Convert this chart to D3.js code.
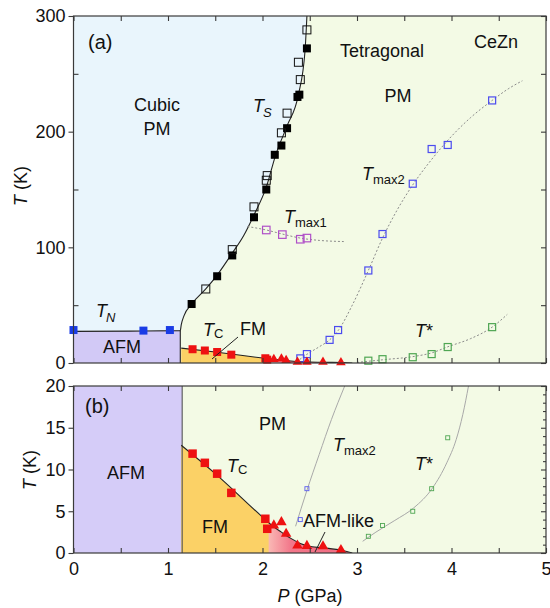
<!DOCTYPE html>
<html>
<head>
<meta charset="utf-8">
<script src="https://cdn.jsdelivr.net/npm/d3@7"></script>
<style>
  body { margin: 0; background: #fff; }
  svg { display: block; font-family: "Liberation Sans", Arial, sans-serif; }
</style>
</head>
<body>
<script>
// ---- data (P in GPa, T in K) ----
const tnP = [0, 0.74, 1.02];
const tnT = [28.5, 28, 28.5];
const tnLineP = [0, 0.6, 1.13];
const tnLineT = [27.3, 27.6, 28];

const tsFilledP = [1.25, 1.52, 1.68, 1.91, 2.04, 2.13, 2.20, 2.26, 2.37, 2.39, 2.47];
const tsFilledT = [51, 75, 93, 126, 150, 180, 188, 203, 230, 232, 272];
const tsOpenP = [1.40, 1.68, 1.91, 2.04, 2.05, 2.20, 2.26, 2.40, 2.38, 2.47];
const tsOpenT = [64, 98, 135, 158, 162, 199, 216, 245, 260, 288];
const tsLineP = [1.13, 1.14, 1.17, 1.25, 1.40, 1.52, 1.68, 1.80, 1.91, 2.04, 2.14, 2.26, 2.38, 2.45, 2.47];
const tsLineT = [28, 33, 41, 51, 64, 76, 95, 110, 128, 152, 180, 205, 232, 270, 300];

const tmax1P = [2.04, 2.21, 2.40, 2.47];
const tmax1T = [115, 111, 107, 108];
const tmax1FitP = [1.84, 2.04, 2.21, 2.40, 2.60, 2.86];
const tmax1FitT = [118, 115, 111.5, 108, 106, 105];

const tmax2P = [2.40, 2.47, 2.71, 2.80, 3.12, 3.27, 3.59, 3.79, 3.96, 4.43];
const tmax2T = [4, 7.7, 20, 28.5, 80, 111.5, 155, 185, 188.5, 227];
const tmax2FitP = [2.36, 2.47, 2.60, 2.71, 2.80, 2.95, 3.12, 3.27, 3.43, 3.59, 3.79, 4.00, 4.20, 4.43, 4.60, 4.75];
const tmax2FitT = [1, 7.5, 14, 20, 28, 50, 80, 108, 133, 154, 176, 196, 212, 227, 237, 244];
const tmax2FitBP = [2.35, 2.47, 2.60, 2.73, 2.87];
const tmax2FitBT = [3.2, 7.5, 11.8, 16, 20];

const tStarP = [3.12, 3.27, 3.59, 3.79, 3.96, 4.43];
const tStarT = [2.0, 3.3, 5.0, 7.7, 13.8, 31];
const tStarFitP = [3.00, 3.12, 3.30, 3.59, 3.80, 3.96, 4.20, 4.43, 4.59];
const tStarFitT = [0.5, 1.5, 3, 5.5, 9, 14, 21, 31, 42];
const tStarFitBP = [3.06, 3.20, 3.40, 3.60, 3.80, 3.95, 4.05, 4.12, 4.18];
const tStarFitBT = [1.4, 2.5, 3.9, 5.4, 7.8, 10.8, 13.6, 16.6, 20];

const tcSqP = [1.26, 1.39, 1.52, 1.67, 2.03, 2.05];
const tcSqT = [11.9, 10.8, 9.5, 7.2, 4.1, 2.9];
const triP = [2.12, 2.20, 2.25, 2.37, 2.47, 2.64, 2.83];
const triT = [3.3, 3.7, 2.3, 0.9, 0.85, 0.8, 0.35];
const tcLineP = [1.14, 1.5, 2.0, 2.1, 2.2, 2.3, 2.4, 2.5, 2.7, 2.85, 2.95];
const tcLineT = [12.9, 9.5, 4.3, 3.3, 2.5, 1.75, 1.15, 0.8, 0.55, 0.3, 0];

const xTicks = d3.range(0, 5.01, 0.5);
const xLabels = [0, 1, 2, 3, 4, 5];
const yaMajor = [0, 100, 200, 300];
const yaMinor = [50, 150, 250];
const ybMajor = [0, 5, 10, 15, 20];

const zip = (a, b) => a.map((v, i) => [v, b[i]]);

// ---- layout ----
const W = 550, H = 608;
const x = d3.scaleLinear().domain([0, 5]).range([73.5, 546]);
const ya = d3.scaleLinear().domain([0, 300]).range([363, 16]);
const yb = d3.scaleLinear().domain([0, 20]).range([553, 386]);

const C = {
  cubic: "#e9f5fc", tetra: "#f3fae5", afmA: "#d2c9f6", afmB: "#d5ccf8",
  fm: "#fbd166", frame: "#3a3a3a"
};

const svg = d3.select("body").append("svg").attr("width", W).attr("height", H);
const defs = svg.append("defs");

// gradient for FM -> AFM-like
const grad = defs.append("linearGradient").attr("id", "fmgrad")
  .attr("gradientUnits", "userSpaceOnUse")
  .attr("x1", x(0)).attr("x2", x(5)).attr("y1", 0).attr("y2", 0);
const off = p => (p / 5 * 100) + "%";
grad.append("stop").attr("offset", off(2.06)).attr("stop-color", C.fm);
grad.append("stop").attr("offset", off(2.07)).attr("stop-color", "#f9b7b4");
grad.append("stop").attr("offset", off(2.3)).attr("stop-color", "#f2778a");
grad.append("stop").attr("offset", off(3.0)).attr("stop-color", "#f06a80");

function clip(id, y) {
  defs.append("clipPath").attr("id", id).append("rect")
    .attr("x", x(0)).attr("y", y.range()[1])
    .attr("width", x(5) - x(0)).attr("height", y.range()[0] - y.range()[1]);
}
clip("clipA", ya);
clip("clipB", yb);

function lineGen(y, curve) {
  return d3.line().x(d => x(d[0])).y(d => y(d[1])).curve(curve || d3.curveMonotoneX);
}

function squares(g, y, P, T, size, stroke, fill, sw) {
  g.selectAll(null).data(zip(P, T)).enter().append("rect")
    .attr("x", d => x(d[0]) - size / 2).attr("y", d => y(d[1]) - size / 2)
    .attr("width", size).attr("height", size)
    .attr("fill", fill).attr("stroke", stroke).attr("stroke-width", sw || 0);
}
function triangles(g, y, P, T, size) {
  g.selectAll(null).data(zip(P, T)).enter().append("path")
    .attr("d", d3.symbol(d3.symbolTriangle, size))
    .attr("transform", d => `translate(${x(d[0])},${y(d[1])})`)
    .attr("fill", "#ee1111");
}

function text(g, px, py, parts, anchor) {
  const t = g.append("text").attr("x", px).attr("y", py)
    .attr("text-anchor", anchor || "start").attr("fill", "#111");
  parts.forEach(p => {
    const s = t.append("tspan").text(p.t)
      .attr("font-size", p.size || 18)
      .attr("font-style", p.it ? "italic" : "normal");
    if (p.dy) s.attr("dy", p.dy);
    if (p.dx) s.attr("dx", p.dx);
  });
  return t;
}

function axes(g, y, major, minor, rightTicks, rightMinor, showX) {
  const top = y.range()[1], bot = y.range()[0];
  const fix = a => { a.select(".domain").remove(); a.selectAll("line").attr("stroke", C.frame).attr("stroke-width", 1.1); };
  g.append("g").attr("transform", `translate(0,${top})`)
    .call(d3.axisTop(x).tickValues(xTicks).tickSize(-5).tickFormat("")).call(fix);
  const bx = g.append("g").attr("transform", `translate(0,${bot})`)
    .call(d3.axisBottom(x).tickValues(xTicks).tickSize(-5).tickPadding(9)
      .tickFormat(d => (showX && xLabels.includes(d)) ? d3.format("d")(d) : "")).call(fix);
  bx.selectAll("text").attr("font-size", 18).attr("font-family", "Liberation Sans, Arial, sans-serif").attr("fill", "#111");
  const ly = g.append("g").attr("transform", `translate(${x(0)},0)`)
    .call(d3.axisLeft(y).tickValues(major).tickSize(5).tickPadding(3)).call(fix);
  ly.selectAll("text").attr("font-size", 18).attr("font-family", "Liberation Sans, Arial, sans-serif").attr("fill", "#111");
  if (minor.length) g.append("g").attr("transform", `translate(${x(0)},0)`)
    .call(d3.axisLeft(y).tickValues(minor).tickSize(-5).tickFormat("")).call(fix);
  g.append("g").attr("transform", `translate(${x(5)},0)`)
    .call(d3.axisRight(y).tickValues(rightTicks).tickSize(-5).tickFormat("")).call(fix);
  if (rightMinor.length) g.append("g").attr("transform", `translate(${x(5)},0)`)
    .call(d3.axisRight(y).tickValues(rightMinor).tickSize(-3).tickFormat("")).call(fix);
  g.append("rect").attr("x", x(0)).attr("y", top).attr("width", x(5) - x(0)).attr("height", bot - top)
    .attr("fill", "none").attr("stroke", C.frame).attr("stroke-width", 1.2);
}

// ================= panel (a) =================
const A = svg.append("g");
const aFill = A.append("g").attr("clip-path", "url(#clipA)");
aFill.append("rect").attr("x", x(0)).attr("y", ya(300)).attr("width", x(5) - x(0))
  .attr("height", ya(0) - ya(300)).attr("fill", C.tetra);

const cubicPts = zip(tnLineP, tnLineT).concat(zip(tsLineP, tsLineT).slice(1));
aFill.append("path")
  .attr("d", d3.area().x(d => x(d[0])).y0(ya(300)).y1(d => ya(d[1])).curve(d3.curveMonotoneX)(cubicPts))
  .attr("fill", C.cubic);
aFill.append("path")
  .attr("d", d3.area().x(d => x(d[0])).y0(ya(0)).y1(d => ya(d[1]))(zip(tnLineP, tnLineT)))
  .attr("fill", C.afmA);
aFill.append("path")
  .attr("d", d3.area().x(d => x(d[0])).y0(ya(0)).y1(d => ya(d[1])).curve(d3.curveMonotoneX)(zip(tcLineP, tcLineT)))
  .attr("fill", "url(#fmgrad)");

const aLines = A.append("g").attr("clip-path", "url(#clipA)").attr("fill", "none");
aLines.append("path").attr("d", lineGen(ya)(cubicPts)).attr("stroke", "#222").attr("stroke-width", 1.1);
aLines.append("path").attr("d", lineGen(ya, d3.curveLinear)([[1.13, 0], [1.13, 28]])).attr("stroke", "#222").attr("stroke-width", 1.1);
aLines.append("path").attr("d", lineGen(ya)(zip(tcLineP, tcLineT))).attr("stroke", "#222").attr("stroke-width", 1.1);
[[tmax1FitP, tmax1FitT], [tmax2FitP, tmax2FitT], [tStarFitP, tStarFitT]].forEach(f => {
  aLines.append("path").attr("d", lineGen(ya)(zip(f[0], f[1])))
    .attr("stroke", "#8a8a8a").attr("stroke-width", 1).attr("stroke-dasharray", "2,2");
});

const aMarks = A.append("g");
squares(aMarks, ya, tsFilledP, tsFilledT, 8, "#000", "#000", 0);
squares(aMarks, ya, tsOpenP, tsOpenT, 8, "#111", "none", 1);
squares(aMarks, ya, tnP, tnT, 8, "#1a3ce6", "#1a3ce6", 0);
squares(aMarks, ya, tmax1P, tmax1T, 7.5, "#b050c8", "none", 1.2);
squares(aMarks, ya, tmax2P, tmax2T, 7, "#4b4bef", "none", 1.2);
squares(aMarks, ya, tStarP, tStarT, 7, "#4fa653", "none", 1.2);
squares(aMarks, ya, tcSqP, tcSqT, 8, "#ee1111", "#ee1111", 0);
triangles(aMarks, ya, triP, triT, 40);

axes(A, ya, yaMajor, yaMinor, d3.range(0, 301, 50), [], false);

// labels (a)
text(A, 88, 49, [{ t: "(a)", size: 20 }]);
text(A, 157, 111, [{ t: "Cubic" }], "middle");
text(A, 157, 135, [{ t: "PM" }], "middle");
text(A, 253, 112, [{ t: "T", it: true }, { t: "S", it: true, size: 13, dy: 5, dx: -1 }]);
text(A, 340, 57, [{ t: "Tetragonal" }]);
text(A, 398, 102, [{ t: "PM" }], "middle");
text(A, 474, 48, [{ t: "CeZn" }]);
text(A, 362, 180, [{ t: "T", it: true }, { t: "max2", size: 13, dy: 4 }]);
text(A, 284, 223, [{ t: "T", it: true }, { t: "max1", size: 13, dy: 4 }]);
text(A, 415, 337, [{ t: "T", it: true }, { t: "*", size: 18 }]);
text(A, 96, 317, [{ t: "T", it: true }, { t: "N", it: true, size: 13, dy: 5, dx: -1 }]);
text(A, 122, 353, [{ t: "AFM" }], "middle");
text(A, 203, 336, [{ t: "T", it: true }, { t: "C", size: 13, dy: 2 }]);
text(A, 240, 335, [{ t: "FM" }]);
A.append("line").attr("x1", 238).attr("y1", 337).attr("x2", 212).attr("y2", 359)
  .attr("stroke", "#222").attr("stroke-width", 1);
A.append("text").attr("transform", `translate(27,186) rotate(-90)`).attr("text-anchor", "middle")
  .attr("font-size", 18).attr("fill", "#111")
  .call(t => { t.append("tspan").attr("font-style", "italic").text("T"); t.append("tspan").text(" (K)"); });

// ================= panel (b) =================
const B = svg.append("g");
const bFill = B.append("g").attr("clip-path", "url(#clipB)");
bFill.append("rect").attr("x", x(0)).attr("y", yb(20)).attr("width", x(5) - x(0))
  .attr("height", yb(0) - yb(20)).attr("fill", C.tetra);
bFill.append("rect").attr("x", x(0)).attr("y", yb(20)).attr("width", x(1.15) - x(0))
  .attr("height", yb(0) - yb(20)).attr("fill", C.afmB);
bFill.append("path")
  .attr("d", d3.area().x(d => x(d[0])).y0(yb(0)).y1(d => yb(d[1])).curve(d3.curveMonotoneX)(zip(tcLineP, tcLineT)))
  .attr("fill", "url(#fmgrad)");

const bLines = B.append("g").attr("clip-path", "url(#clipB)").attr("fill", "none");
bLines.append("path").attr("d", lineGen(yb, d3.curveLinear)([[1.15, 0], [1.15, 20]])).attr("stroke", "#555").attr("stroke-width", 1.1);
bLines.append("path").attr("d", lineGen(yb)(zip(tcLineP, tcLineT))).attr("stroke", "#222").attr("stroke-width", 1.1);
[[tmax2FitBP, tmax2FitBT], [tStarFitBP, tStarFitBT]].forEach(f => {
  bLines.append("path").attr("d", lineGen(yb)(zip(f[0], f[1])))
    .attr("stroke", "#a8a8a8").attr("stroke-width", 1);
});

const bMarks = B.append("g");
squares(bMarks, yb, tmax2P.filter((p, i) => tmax2T[i] < 15), tmax2T.filter(t => t < 15), 4, "#5a5aef", "none", 0.9);
squares(bMarks, yb, tStarP.filter((p, i) => tStarT[i] < 15), tStarT.filter(t => t < 15), 4, "#4fa653", "none", 0.9);
squares(bMarks, yb, tcSqP, tcSqT, 8.5, "#ee1111", "#ee1111", 0);
triangles(bMarks, yb, triP, triT, 48);

axes(B, yb, ybMajor, [], ybMajor, d3.range(0, 21, 1).filter(v => v % 5), true);

// labels (b)
text(B, 85, 413, [{ t: "(b)", size: 20 }]);
text(B, 126, 479, [{ t: "AFM" }], "middle");
text(B, 227, 472, [{ t: "T", it: true }, { t: "C", size: 13, dy: 2 }]);
text(B, 202, 533, [{ t: "FM" }]);
text(B, 259, 430, [{ t: "PM" }]);
text(B, 333, 451, [{ t: "T", it: true }, { t: "max2", size: 13, dy: 4 }]);
text(B, 415, 470, [{ t: "T", it: true }, { t: "*", size: 18 }]);
text(B, 303, 527, [{ t: "AFM-like" }]);
B.append("line").attr("x1", 325).attr("y1", 532).attr("x2", 315).attr("y2", 552)
  .attr("stroke", "#222").attr("stroke-width", 1);
B.append("text").attr("transform", `translate(36,470) rotate(-90)`).attr("text-anchor", "middle")
  .attr("font-size", 18).attr("fill", "#111")
  .call(t => { t.append("tspan").attr("font-style", "italic").text("T"); t.append("tspan").text(" (K)"); });

// x axis title
svg.append("text").attr("x", 310).attr("y", 602).attr("text-anchor", "middle")
  .attr("font-size", 18).attr("fill", "#111")
  .call(t => { t.append("tspan").attr("font-style", "italic").text("P"); t.append("tspan").text(" (GPa)"); });
</script>
</body>
</html>
